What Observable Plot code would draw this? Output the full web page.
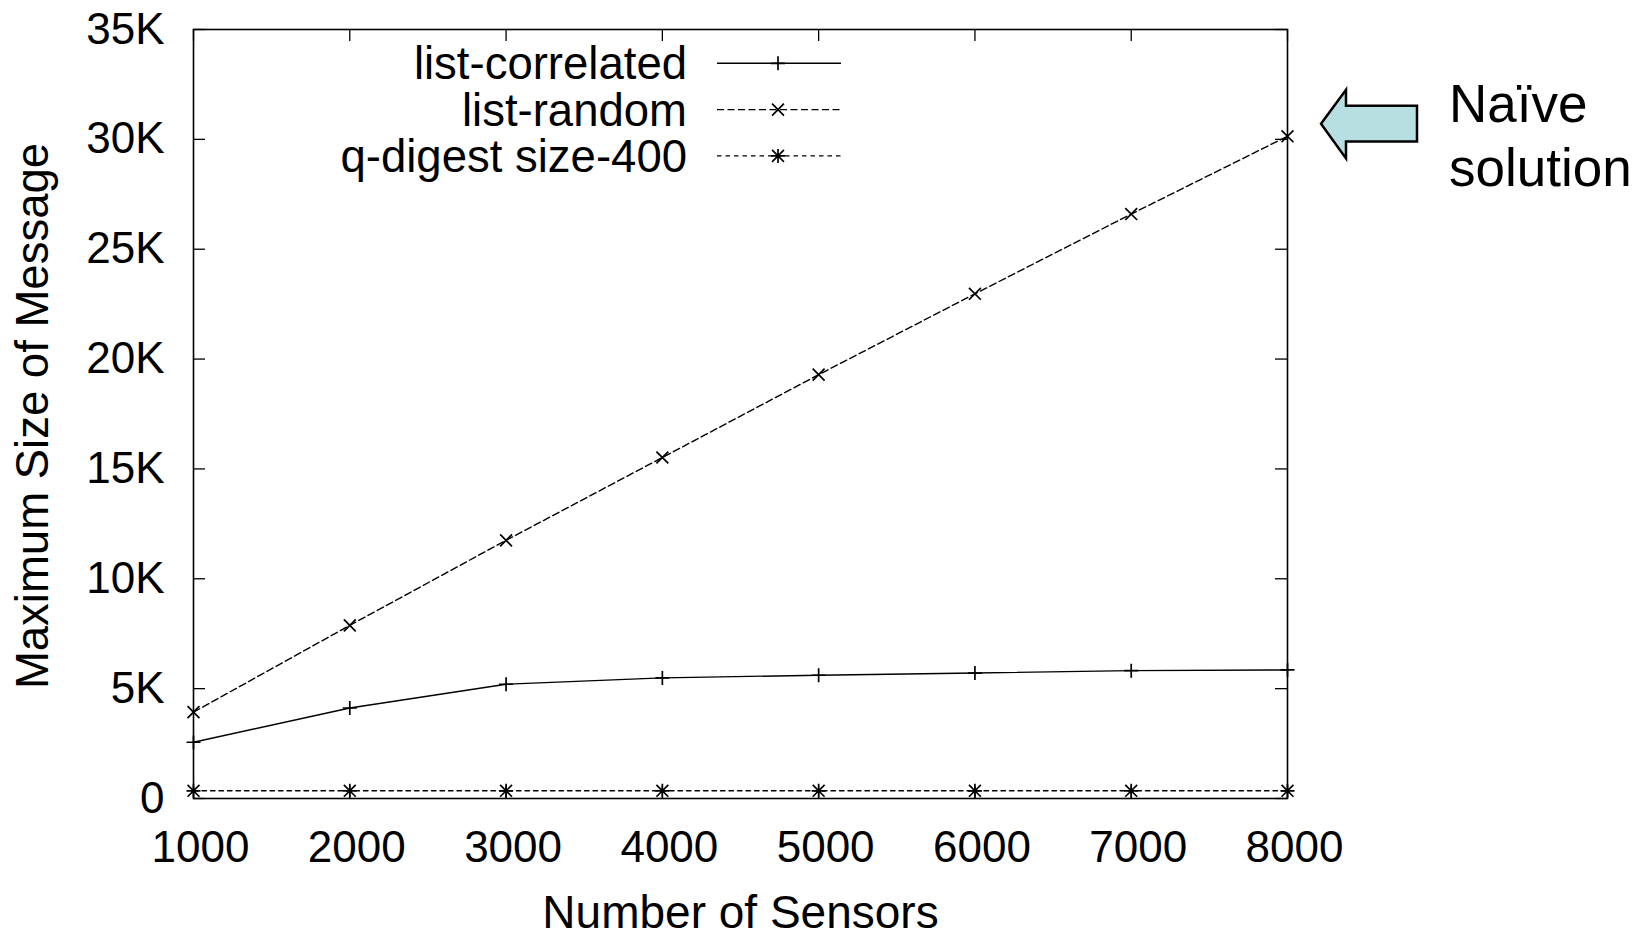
<!DOCTYPE html>
<html><head><meta charset="utf-8">
<script src="https://cdn.jsdelivr.net/npm/d3@7"></script>
<script src="https://cdn.jsdelivr.net/npm/@observablehq/plot@0.6"></script>
<style>
html,body{margin:0;padding:0;background:#fff;}
#wrap{position:relative;width:1646px;height:936px;}
#wrap svg{display:block}
#overlay{position:absolute;left:0;top:0;pointer-events:none;}
</style></head><body><div id="wrap"></div>
<script>
// ---- data ----
const sensors = [1000, 2000, 3000, 4000, 5000, 6000, 7000, 8000];
const listCorrelated = [2560, 4120, 5200, 5490, 5610, 5710, 5820, 5850];
const listRandom = [3930, 7880, 11750, 15520, 19290, 22970, 26600, 30140];
const qDigest400 = [350, 350, 350, 350, 350, 350, 350, 350];
const seriesNames = ["list-correlated", "list-random", "q-digest size-400"];
const xTicks = [1000, 2000, 3000, 4000, 5000, 6000, 7000, 8000];
const xTickLabels = ["1000", "2000", "3000", "4000", "5000", "6000", "7000", "8000"];
const yTicks = [0, 5000, 10000, 15000, 20000, 25000, 30000, 35000];
const yTickLabels = ["0", "5K", "10K", "15K", "20K", "25K", "30K", "35K"];
const xLabel = "Number of Sensors";
const yLabel = "Maximum Size of Message";
const noteLines = ["Naïve", "solution"];

// ---- gnuplot-like point symbols ----
const rad = size => Math.sqrt(size / Math.PI);
const symPlus = {draw(c, size) { const r = rad(size); c.moveTo(-r, 0); c.lineTo(r, 0); c.moveTo(0, -r); c.lineTo(0, r); }};
const symTimes = {draw(c, size) { const r = rad(size) * 0.85; c.moveTo(-r, -r); c.lineTo(r, r); c.moveTo(-r, r); c.lineTo(r, -r); }};
const symStar = {draw(c, size) { const r = rad(size); const q = r * 0.85;
  c.moveTo(-r, 0); c.lineTo(r, 0); c.moveTo(0, -r); c.lineTo(0, r);
  c.moveTo(-q, -q); c.lineTo(q, q); c.moveTo(-q, q); c.lineTo(q, -q); }};

const series = [
  {name: seriesNames[0], values: listCorrelated, dash: null, symbol: symPlus},
  {name: seriesNames[1], values: listRandom, dash: "7,3.5", symbol: symTimes},
  {name: seriesNames[2], values: qDigest400, dash: "4.5,4", symbol: symStar}
];

const W = 1646, H = 936, mL = 193, mR = 359, mT = 29, mB = 138;
const fw = W - mL - mR, fh = H - mT - mB, tickLen = 12;
const font = "'Liberation Sans', Arial, Helvetica, sans-serif";
const R = 7;

const rows = s => sensors.map((x, i) => ({x, y: s.values[i]}));

const chart = Plot.plot({
  width: W, height: H,
  marginLeft: mL, marginRight: mR, marginTop: mT, marginBottom: mB,
  style: {fontFamily: font, fontSize: "44px", color: "black", background: "white", overflow: "visible"},
  x: {domain: [1000, 8000], label: null},
  y: {domain: [0, 35000], label: null},
  marks: [
    ...series.map(s => Plot.line(rows(s), {x: "x", y: "y", stroke: "black", strokeWidth: 1.4, strokeDasharray: s.dash})),
    ...series.map(s => Plot.dot(rows(s), {x: "x", y: "y", symbol: s.symbol, r: R, fill: "none", stroke: "black", strokeWidth: 1.7})),
    Plot.tickX(xTicks, {x: d => d, insetTop: fh - tickLen, stroke: "black", strokeWidth: 1.3}),
    Plot.tickX(xTicks, {x: d => d, insetBottom: fh - tickLen, stroke: "black", strokeWidth: 1.3}),
    Plot.tickY(yTicks, {y: d => d, insetRight: fw - tickLen, stroke: "black", strokeWidth: 1.3}),
    Plot.tickY(yTicks, {y: d => d, insetLeft: fw - tickLen, stroke: "black", strokeWidth: 1.3}),
    Plot.frame({stroke: "black", strokeWidth: 1.6}),
    Plot.axisX(xTicks, {tickSize: 0, tickPadding: 32, dx: 7, fontSize: 44, label: null,
      tickFormat: d => xTickLabels[xTicks.indexOf(d)]}),
    Plot.axisY(yTicks, {tickSize: 0, tickPadding: 29, fontSize: 44, label: null,
      tickFormat: d => yTickLabels[yTicks.indexOf(d)]}),
    Plot.text([yLabel], {text: d => d, frameAnchor: "left", textAnchor: "middle", lineAnchor: "middle",
      rotate: -90, dx: -160, dy: 2, fontSize: 45.5, fill: "black"}),
    Plot.text([xLabel], {text: d => d, frameAnchor: "bottom", textAnchor: "middle", lineAnchor: "middle",
      dy: 115, fontSize: 46, fill: "black"})
  ]
});

const wrap = document.getElementById("wrap");
wrap.appendChild(chart);

// ---- overlay: legend + annotation ----
const xs = chart.scale("x"), ys = chart.scale("y");
const ov = d3.create("svg").attr("id", "overlay").attr("width", W).attr("height", H)
  .style("font-family", font);

series.forEach((s, i) => {
  const yy = mT + 34.3 + i * 46.3;
  ov.append("text").attr("x", mL + 494).attr("y", yy).attr("dy", "0.35em")
    .attr("text-anchor", "end").attr("font-size", 45.5).attr("fill", "black").text(s.name);
  ov.append("line").attr("x1", mL + 524).attr("x2", mL + 648).attr("y1", yy).attr("y2", yy)
    .attr("stroke", "black").attr("stroke-width", 1.4).attr("stroke-dasharray", s.dash);
  ov.append("path").attr("transform", `translate(${mL + 585},${yy})`)
    .attr("d", d3.symbol(s.symbol, R * R * Math.PI)())
    .attr("fill", "none").attr("stroke", "black").attr("stroke-width", 1.7);
});

const px = xs.apply(sensors[sensors.length - 1]);
const py = ys.apply(listRandom[listRandom.length - 1]);
const arrowPts = [[34, -12], [59, -46], [59, -30], [130, -30], [130, 5.7], [59, 5.7], [59, 22.7]]
  .map(([a, b]) => [px + a, py + b]);
ov.append("polygon").attr("points", arrowPts.map(p => p.join(",")).join(" "))
  .attr("fill", "#b7dee0").attr("stroke", "black").attr("stroke-width", 2.5).attr("stroke-linejoin", "miter");

noteLines.forEach((t, i) => {
  ov.append("text").attr("x", px + 162).attr("y", py - 13.3 + i * 63.3)
    .attr("font-size", 53).attr("fill", "black").text(t);
});

wrap.appendChild(ov.node());
</script>
</body></html>
